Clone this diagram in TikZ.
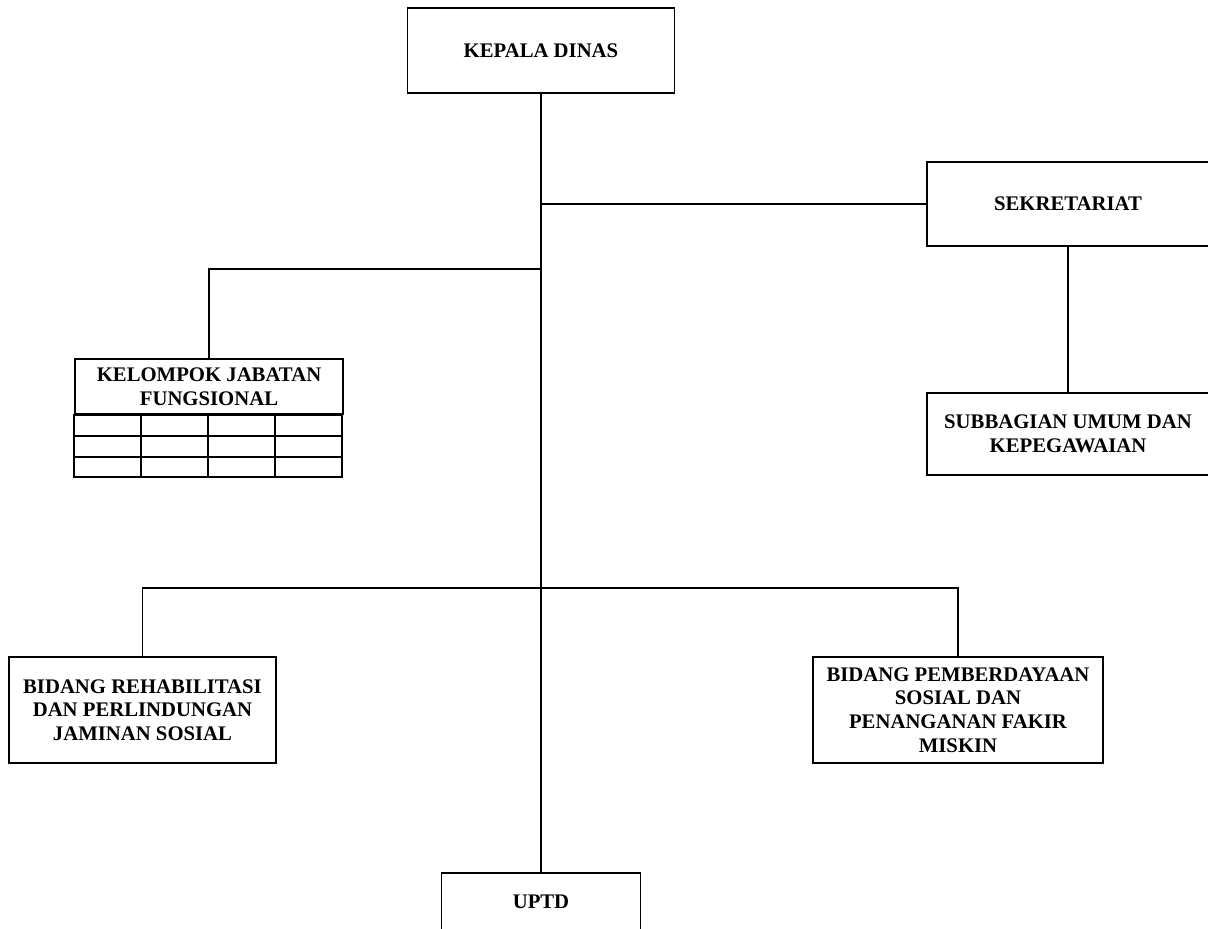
\documentclass[tikz,border=0pt]{standalone}
\usepackage{fontspec}
\setmainfont{Liberation Serif}
\begin{document}
\begin{tikzpicture}[x=0.02cm,y=-0.02cm,line width=1.1pt,
  box/.style={draw,rectangle,align=center,inner sep=2pt,
    font=\fontsize{11.8}{13.5}\selectfont\bfseries}]
\useasboundingbox (0,0) rectangle (1208,929);
\clip (0,0) rectangle (1208,929);
\node[box,minimum width=5.34cm,minimum height=1.70cm] (kepala) at (541,50.5) {KEPALA DINAS};
\node[box,minimum width=5.64cm,minimum height=1.68cm] (sekre) at (1068,204) {SEKRETARIAT};
\node[box,minimum width=5.64cm,minimum height=1.64cm] (subbag) at (1068,434) {SUBBAGIAN UMUM DAN\\KEPEGAWAIAN};
\node[box,minimum width=5.36cm,minimum height=1.10cm] (kel) at (209,386.5) {KELOMPOK JABATAN\\FUNGSIONAL};
\node[box,minimum width=5.34cm,minimum height=2.12cm] (rehab) at (142.5,710) {BIDANG REHABILITASI\\DAN PERLINDUNGAN\\JAMINAN SOSIAL};
\node[box,minimum width=5.80cm,minimum height=2.12cm] (pember) at (958,710) {BIDANG PEMBERDAYAAN\\SOSIAL DAN\\PENANGANAN FAKIR\\MISKIN};
\node[box,minimum width=3.98cm,minimum height=1.16cm] (uptd) at (541,902) {UPTD};
% table rows
\draw (kel.south west) rectangle ++(268,62);
\draw (kel.south west) ++(0,21) -- ++(268,0);
\draw (kel.south west) ++(0,42) -- ++(268,0);
\draw (kel.south west) ++(67,0) -- ++(0,62);
\draw (kel.south west) ++(134,0) -- ++(0,62);
\draw (kel.south west) ++(201,0) -- ++(0,62);
% connectors
\coordinate (j1) at (kepala.south |- sekre.west);
\coordinate (j2) at (541,269);
\coordinate (j3) at (541,588);
\draw (kepala.south) -- (uptd.north);
\draw (j1) -- (sekre.west);
\draw (sekre.south) -- (subbag.north);
\draw (j2) -| (kel.north);
\draw (j3) -| (rehab.north);
\draw (j3) -| (pember.north);
\end{tikzpicture}
\end{document}
